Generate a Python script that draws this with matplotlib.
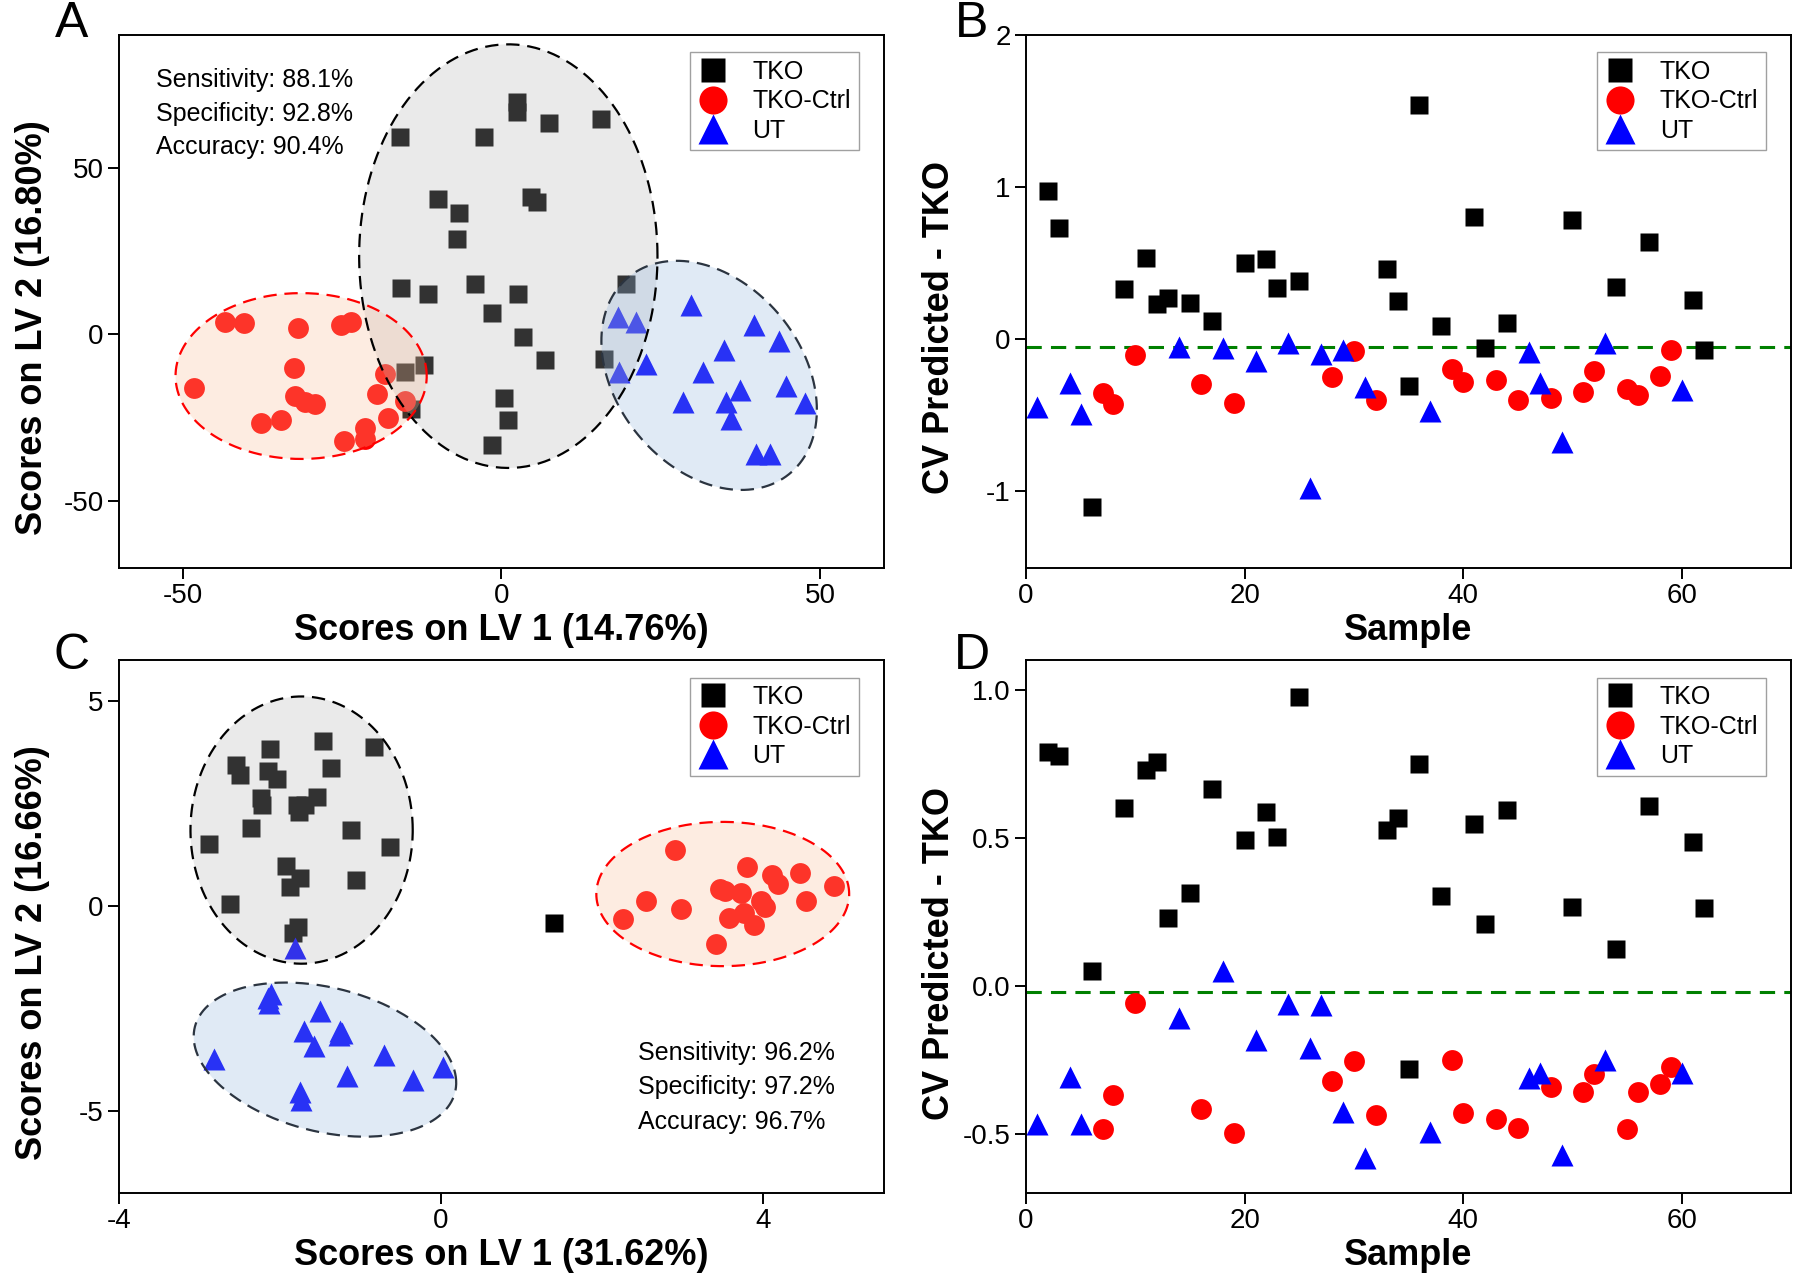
import numpy as np
import matplotlib
matplotlib.use("Agg")
import matplotlib.pyplot as plt
from matplotlib.ticker import FormatStrFormatter

plt.rcParams['font.family'] = ['Liberation Sans', 'DejaVu Sans']
plt.rcParams['axes.unicode_minus'] = False

# ---- panel A: PLS-DA scores (LV1 vs LV2) ----
a_tko_x = [2.4, 2.5, 7.5, 15.6, -15.9, -2.7, -10.0, 4.7, 5.6, -6.7, -7.0, -15.8, -11.5,
           -4.2, 2.6, -1.4, 3.4, 6.8, 19.5, 16.1, -12.2, -15.1, -14.1, 0.4, 1.1, -1.4]
a_tko_y = [69.8, 66.9, 63.6, 64.6, 59.4, 59.2, 40.8, 41.2, 39.9, 36.6, 28.7, 14.0, 12.1,
           15.2, 12.1, 6.5, -0.7, -7.8, 15.0, -7.5, -9.3, -11.4, -22.3, -19.2, -25.7, -33.2]
a_ctrl_x = [-43.4, -40.4, -31.9, -25.1, -23.5, -32.5, -18.3, -48.2, -32.3, -30.8, -29.2,
            -19.5, -15.1, -37.7, -34.6, -17.7, -21.4, -21.4, -24.6]
a_ctrl_y = [3.6, 3.4, 2.0, 2.9, 3.8, -10.2, -11.9, -16.1, -18.5, -20.2, -21.0,
            -17.9, -20.0, -26.5, -25.7, -25.1, -28.2, -31.3, -32.0]
a_ut_x = [18.3, 21.2, 29.8, 39.6, 43.5, 35.0, 22.7, 18.5, 31.7, 44.6, 37.5, 35.3, 28.5,
          47.6, 36.0, 40.0, 42.2]
a_ut_y = [5.2, 3.6, 8.8, 2.8, -1.9, -4.7, -8.8, -11.4, -11.4, -15.6, -16.6, -20.4, -20.4,
          -20.7, -25.4, -35.8, -35.8]
# ellipses: centre x, centre y, half width, half height, tilt (correlation)
a_ell_tko = [1.1, 23.5, 23.4, 63.6, 0.0]
a_ell_ctrl = [-31.4, -12.5, 19.7, 24.9, 0.0]
a_ell_ut = [32.6, -12.3, 16.9, 34.4, -0.3]
a_stats = ["Sensitivity: 88.1%", "Specificity: 92.8%", "Accuracy: 90.4%"]

# ---- panel C: PLS-DA scores, second model ----
c_tko_x = [-1.47, -2.12, -0.83, -2.54, -2.49, -2.15, -2.03, -1.36, -2.23, -2.22, -1.54,
           -1.79, -1.69, -1.76, -2.36, -1.12, -2.88, -0.63, -1.92, -1.75, -1.88, -1.05,
           -2.62, -1.78, -1.84, 1.41]
c_tko_y = [4.03, 3.84, 3.88, 3.44, 3.19, 3.29, 3.10, 3.36, 2.64, 2.45, 2.66,
           2.45, 2.47, 2.30, 1.91, 1.86, 1.52, 1.43, 0.98, 0.67, 0.46, 0.62,
           0.04, -0.51, -0.66, -0.42]
c_ctrl_x = [2.91, 3.80, 4.11, 4.19, 4.46, 3.46, 3.53, 3.73, 2.55, 2.98, 3.97, 4.02,
            4.53, 2.26, 3.58, 3.77, 3.89, 3.42, 4.88]
c_ctrl_y = [1.36, 0.94, 0.76, 0.53, 0.81, 0.42, 0.36, 0.32, 0.13, -0.08, 0.11, -0.03,
            0.11, -0.33, -0.29, -0.17, -0.46, -0.94, 0.48]
c_ut_x = [-1.81, -2.15, -2.11, -2.13, -1.50, -1.70, -1.25, -1.27, -1.23, -1.58, -2.82,
          -0.71, 0.03, -1.17, -0.35, -1.75, -1.74]
c_ut_y = [-1.03, -2.25, -2.14, -2.38, -2.56, -3.04, -3.04, -3.15, -3.09, -3.41, -3.73,
          -3.63, -3.94, -4.15, -4.25, -4.53, -4.74]
c_ell_tko = [-1.73, 1.85, 1.38, 3.26, 0.0]
c_ell_ctrl = [3.50, 0.29, 1.57, 1.76, 0.0]
c_ell_ut = [-1.44, -3.75, 1.63, 1.88, -0.3]
c_stats = ["Sensitivity: 96.2%", "Specificity: 97.2%", "Accuracy: 96.7%"]

# ---- panels B and D: CV predicted class TKO per sample ----
tko_idx = [2, 3, 6, 9, 11, 12, 13, 15, 17, 20, 22, 23, 25, 33, 34, 35, 36, 38, 41, 42,
           44, 50, 54, 57, 61, 62]
ctrl_idx = [7, 8, 10, 16, 19, 28, 30, 32, 39, 40, 43, 45, 48, 51, 52, 55, 56, 58, 59]
ut_idx = [1, 4, 5, 14, 18, 21, 24, 26, 27, 29, 31, 37, 46, 47, 49, 53, 60]

b_tko = [0.97, 0.73, -1.10, 0.33, 0.535, 0.234, 0.268, 0.238, 0.116, 0.499, 0.524, 0.336,
         0.381, 0.46, 0.252, -0.306, 1.537, 0.086, 0.80, -0.061, 0.109, 0.785, 0.345,
         0.639, 0.256, -0.073]
b_ctrl = [-0.351, -0.424, -0.102, -0.295, -0.42, -0.249, -0.079, -0.401, -0.193, -0.281,
          -0.27, -0.397, -0.385, -0.349, -0.209, -0.329, -0.367, -0.243, -0.073]
b_ut = [-0.447, -0.288, -0.49, -0.054, -0.061, -0.145, -0.027, -0.98, -0.10, -0.073,
        -0.315, -0.47, -0.084, -0.288, -0.673, -0.027, -0.333]
b_thresh = -0.05

d_tko = [0.789, 0.774, 0.049, 0.600, 0.727, 0.756, 0.229, 0.312, 0.664, 0.492, 0.588,
         0.501, 0.974, 0.524, 0.565, -0.280, 0.747, 0.304, 0.545, 0.209, 0.592, 0.267,
         0.124, 0.606, 0.484, 0.261]
d_ctrl = [-0.485, -0.371, -0.058, -0.418, -0.499, -0.323, -0.255, -0.436, -0.251, -0.429,
          -0.452, -0.481, -0.342, -0.360, -0.299, -0.485, -0.360, -0.331, -0.274]
d_ut = [-0.468, -0.309, -0.468, -0.108, 0.049, -0.183, -0.061, -0.212, -0.067, -0.427,
        -0.584, -0.494, -0.313, -0.294, -0.572, -0.251, -0.296]
d_thresh = -0.02

labels = ["TKO", "TKO-Ctrl", "UT"]

TICK_FS = 20
LABEL_FS = 26

fig = plt.figure(figsize=(18, 12.84), dpi=100)
axA = fig.add_axes([0.066, 0.558, 0.425, 0.415])
axB = fig.add_axes([0.570, 0.558, 0.425, 0.415])
axC = fig.add_axes([0.066, 0.071, 0.425, 0.415])
axD = fig.add_axes([0.570, 0.071, 0.425, 0.415])


def ellipse_xy(par, n=300):
    cx, cy, sx, sy, rho = par
    t = np.linspace(0, 2 * np.pi, n)
    x = cx + sx * np.cos(t)
    y = cy + sy * (rho * np.cos(t) + np.sqrt(1 - rho ** 2) * np.sin(t))
    return x, y


def draw_markers(ax, tx, ty, cx, cy, ux, uy):
    ax.plot(tx, ty, ls='none', marker='s', ms=12.5, color='black', mec='none', zorder=2, label=labels[0])
    ax.plot(cx, cy, ls='none', marker='o', ms=15, color='red', mec='none', zorder=2, label=labels[1])
    ax.plot(ux, uy, ls='none', marker='^', ms=16, color='blue', mec='none', zorder=2, label=labels[2])


def draw_ellipse(ax, par, fill, edge):
    x, y = ellipse_xy(par)
    ax.fill(x, y, color=fill, alpha=0.28, lw=0, zorder=3)
    ax.plot(x, y, color=edge, lw=1.6, ls=(0, (6, 3.5)), zorder=4)


def style_axes(ax, xl, yl):
    for s in ax.spines.values():
        s.set_linewidth(1.4)
    ax.tick_params(direction='out', length=8, width=1.4, labelsize=TICK_FS, pad=3,
                   top=False, right=False)
    ax.set_xlabel(xl, fontsize=LABEL_FS, fontweight='bold')
    ax.set_ylabel(yl, fontsize=LABEL_FS, fontweight='bold')
    ax.yaxis.set_label_coords(-0.09, 0.45)
    ax.xaxis.set_label_coords(0.5, -0.085)
    ax.legend(loc='upper right', bbox_to_anchor=(0.967, 0.967), fontsize=18, frameon=True,
              fancybox=False, edgecolor='#a0a0a0', framealpha=1, markerscale=1.35,
              handlelength=1.2, handletextpad=1.0, labelspacing=0.22, borderpad=0.3,
              borderaxespad=0)


# A
draw_markers(axA, a_tko_x, a_tko_y, a_ctrl_x, a_ctrl_y, a_ut_x, a_ut_y)
draw_ellipse(axA, a_ell_tko, '#b7b7b7', 'black')
draw_ellipse(axA, a_ell_ctrl, '#f8bb94', 'red')
draw_ellipse(axA, a_ell_ut, '#90b4dc', '#2b3440')
axA.set_xlim(-60, 60)
axA.set_ylim(-70, 90)
axA.set_xticks([-50, 0, 50])
axA.set_yticks([-50, 0, 50])
for i, s in enumerate(a_stats):
    axA.text(0.049, 0.914 - i * 0.062, s, transform=axA.transAxes, fontsize=18, va='center')
style_axes(axA, "Scores on LV 1 (14.76%)", "Scores on LV 2 (16.80%)")

# C
draw_markers(axC, c_tko_x, c_tko_y, c_ctrl_x, c_ctrl_y, c_ut_x, c_ut_y)
draw_ellipse(axC, c_ell_tko, '#b7b7b7', 'black')
draw_ellipse(axC, c_ell_ctrl, '#f8bb94', 'red')
draw_ellipse(axC, c_ell_ut, '#90b4dc', '#2b3440')
axC.set_xlim(-4, 5.5)
axC.set_ylim(-7, 6)
axC.set_xticks([-4, 0, 4])
axC.set_yticks([-5, 0, 5])
for i, s in enumerate(c_stats):
    axC.text(0.679, 0.263 - i * 0.065, s, transform=axC.transAxes, fontsize=18, va='center')
style_axes(axC, "Scores on LV 1 (31.62%)", "Scores on LV 2 (16.66%)")

# B
draw_markers(axB, tko_idx, b_tko, ctrl_idx, b_ctrl, ut_idx, b_ut)
axB.axhline(b_thresh, color='green', lw=2.2, ls=(0, (5, 3)), zorder=1)
axB.set_xlim(0, 70)
axB.set_ylim(-1.5, 2)
axB.set_xticks([0, 20, 40, 60])
axB.set_yticks([-1, 0, 1, 2])
style_axes(axB, "Sample", "CV Predicted - TKO")

# D
draw_markers(axD, tko_idx, d_tko, ctrl_idx, d_ctrl, ut_idx, d_ut)
axD.axhline(d_thresh, color='green', lw=2.2, ls=(0, (5, 3)), zorder=1)
axD.set_xlim(0, 70)
axD.set_ylim(-0.7, 1.1)
axD.set_xticks([0, 20, 40, 60])
axD.set_yticks([-0.5, 0.0, 0.5, 1.0])
axD.yaxis.set_major_formatter(FormatStrFormatter('%.1f'))
style_axes(axD, "Sample", "CV Predicted - TKO")

for letter, x, y in [("A", 0.0396, 0.981), ("B", 0.540, 0.981), ("C", 0.0396, 0.489), ("D", 0.540, 0.489)]:
    fig.text(x, y, letter, fontsize=36, ha='center', va='center')

fig.savefig("out.png", dpi=100)
